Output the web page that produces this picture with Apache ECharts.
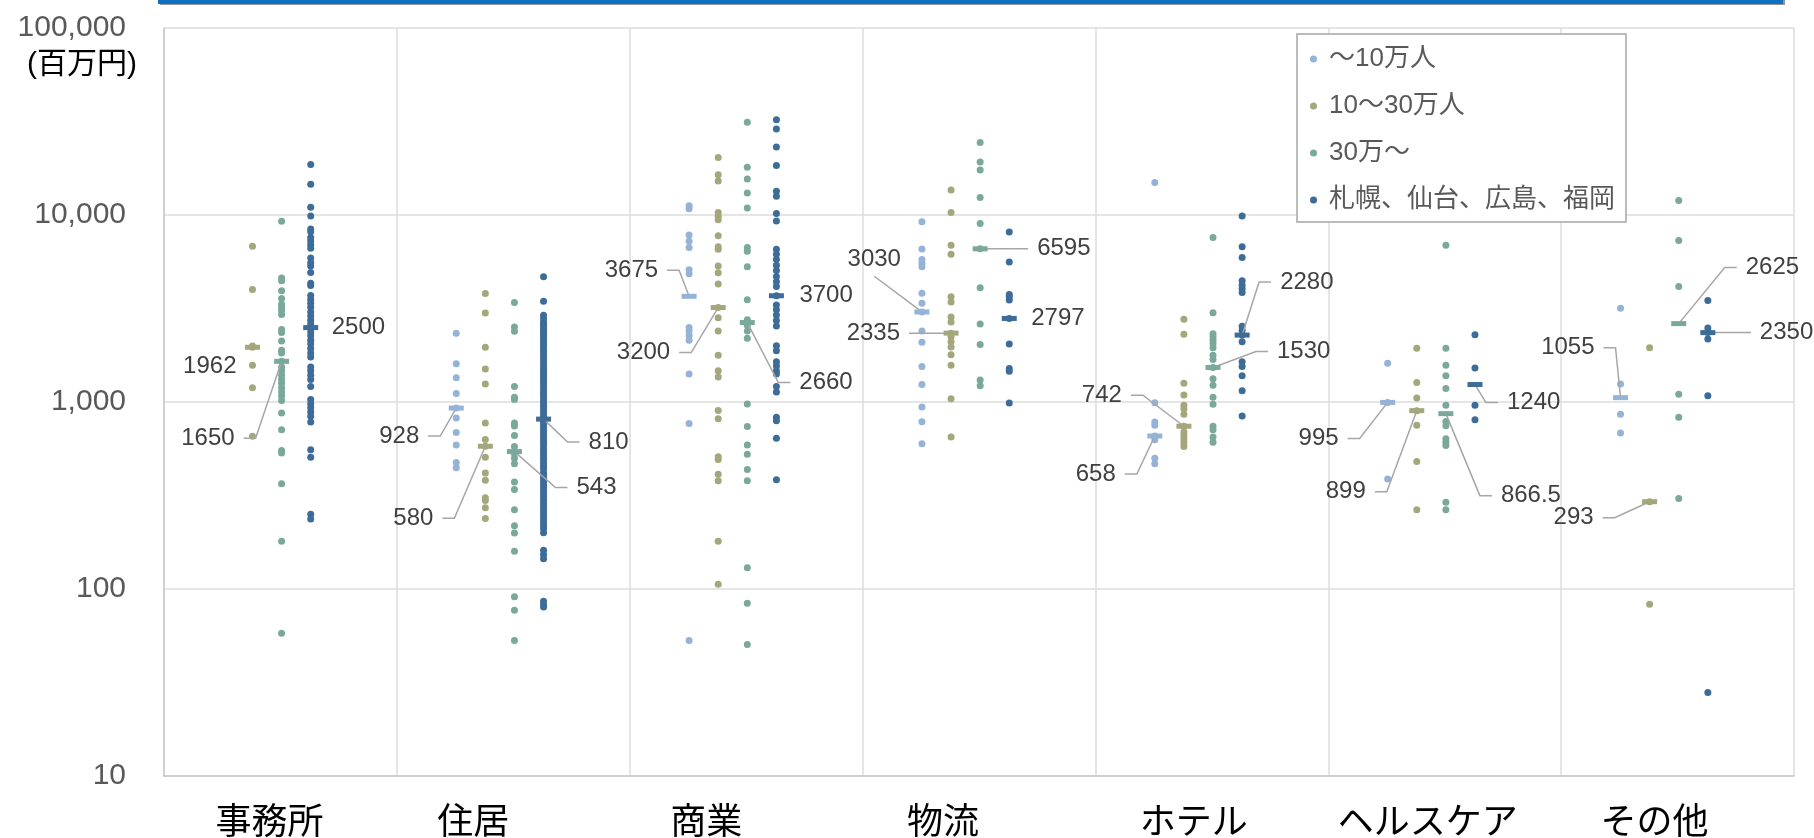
<!DOCTYPE html>
<html>
<head>
<meta charset="utf-8">
<script src="https://cdn.jsdelivr.net/npm/echarts@6/dist/echarts.min.js"></script>
<style>
  html, body { margin: 0; padding: 0; background: #ffffff; }
  #chart { width: 1814px; height: 838px; }
</style>
</head>
<body>
<div id="chart"></div>
<script>
// Building use categories (x axis)
const categories = ['事務所', '住居', '商業', '物流', 'ホテル', 'ヘルスケア', 'その他'];

// City-size groups (legend)
const groupNames = ['〜10万人', '10〜30万人', '30万〜', '札幌、仙台、広島、福岡'];

// Y axis range (百万円, log scale)
const yMin = 10;
const yMax = 100000;

// Individual project amounts per category, one array per group
const smallCityValues = [
  [],
  [2330, 1600, 1350, 1110, 928, 821, 686, 589, 475, 445],
  [11200, 10800, 7820, 7230, 6700, 5100, 4850, 2500, 2400, 2270, 2140, 1410, 768, 53],
  [9210, 6580, 5790, 5510, 5290, 3810, 3370, 3030, 2400, 2090, 1550, 1240, 940, 785, 598],
  [14900, 992, 781, 750, 658, 628, 501, 468],
  [1610, 995, 388],
  [3170, 1250, 860, 683]
];
const midCityValues = [
  [6800, 4000, 1990, 1962, 1570, 1190, 655],
  [3800, 2990, 1960, 1500, 1250, 772, 631, 580, 506, 417, 381, 308, 297, 272, 238],
  [20300, 16400, 15200, 10300, 9860, 9430, 7750, 6760, 6550, 5330, 4910, 4280, 3200, 2820, 2400, 1780, 1470, 1360, 900, 814, 509, 493, 411, 379, 180, 106],
  [13600, 10300, 6900, 6160, 3650, 3430, 2850, 2680, 2335, 2230, 2100, 1970, 1790, 1570, 1040, 649],
  [2770, 2300, 1260, 1090, 960, 921, 859, 742, 691, 663, 636, 610, 579],
  [1940, 1270, 1050, 899, 750, 481, 265],
  [1950, 293, 83]
];
const largeCityValues = [
  [9250, 4600, 4450, 3930, 3580, 3330, 3200, 3090, 2940, 2440, 2350, 2120, 1890, 1830, 1650, 1540, 1470, 1390, 1320, 1260, 1190, 1130, 1080, 1020, 873, 711, 551, 533, 366, 180, 58],
  [3400, 2520, 2390, 1210, 1060, 1030, 772, 744, 661, 579, 543, 529, 501, 468, 373, 340, 265, 218, 199, 159, 91, 77, 53],
  [31300, 18000, 15600, 13100, 10900, 6700, 6400, 5280, 3520, 2750, 2570, 2400, 2190, 977, 740, 589, 526, 435, 379, 130, 84, 50.5],
  [24400, 19200, 17400, 12400, 9020, 6595, 4080, 2610, 2030, 1310, 1220],
  [7590, 3000, 2320, 2230, 2140, 2050, 1950, 1780, 1690, 1530, 1330, 1230, 1060, 972, 743, 711, 649, 610],
  [6900, 1940, 1570, 1380, 1180, 960, 787, 747, 637, 611, 586, 291, 265],
  [11950, 7310, 4140, 1100, 830, 305]
];
const majorCityValues = [
  [18600, 14600, 11000, 9880, 8410, 8140, 7590, 7260, 6940, 6640, 5890, 5560, 5340, 4930, 4310, 4200, 3710, 3530, 3370, 3210, 3030, 2880, 2740, 2610, 2500, 2370, 2260, 2140, 2040, 1930, 1830, 1740, 1540, 1470, 1390, 1320, 1210, 1030, 979, 933, 884, 838, 781, 556, 507, 251, 237],
  [4670, 3460, 2910, 2800, 2680, 2600, 2540, 2450, 2380, 2300, 2240, 2170, 2100, 2030, 1980, 1900, 1850, 1790, 1720, 1680, 1620, 1560, 1510, 1460, 1420, 1370, 1320, 1280, 1240, 1190, 1150, 1110, 1080, 1040, 1000, 970, 940, 905, 870, 840, 815, 785, 760, 730, 705, 680, 655, 630, 610, 590, 565, 545, 525, 505, 490, 470, 455, 440, 420, 405, 390, 375, 360, 348, 335, 322, 310, 298, 287, 276, 265, 255, 245, 236, 226, 218, 210, 200, 161, 153, 145, 86, 82, 80],
  [32300, 28800, 23100, 18400, 13400, 12600, 10200, 9290, 6550, 6170, 5780, 5380, 5050, 4690, 4400, 4150, 3700, 3300, 3110, 2920, 2730, 2550, 2000, 1880, 1640, 1560, 1470, 1410, 1210, 1130, 830, 793, 640, 384],
  [8110, 5600, 3760, 3650, 3510, 2797, 2040, 1510, 1460, 988],
  [9880, 6760, 5930, 4450, 4220, 4050, 3850, 2540, 2420, 2280, 2100, 1640, 1550, 1380, 1150, 841],
  [2290, 1520, 960, 804],
  [3490, 2490, 2350, 2170, 1080, 28]
];

// Median per category, one array per group (null = no data)
const smallCityMedians = [null, 928, 3675, 3030, 658, 995, 1055];
const midCityMedians   = [1962, 580, 3200, 2335, 742, 899, 293];
const largeCityMedians = [1650, 543, 2660, 6595, 1530, 866.5, 2625];
const majorCityMedians = [2500, 810, 3700, 2797, 2280, 1240, 2350];

// ---- styling / layout ----
const colors = ['#95B3D7', '#A4A77C', '#7AA99B', '#3D6C99'];
// horizontal slot of each group inside a category band (band = 1 unit)
const slotOffsets = [0.255, 0.38, 0.505, 0.63];
// median label placement relative to its marker:
// [side, offset of the text's near edge, vertical offset, leader line: false | 'side' | 'below']
const medianLabelLayout = [
  [null, ['left', -37, 28, 'side'], ['left', -31, -26, 'side'], ['left', -21, -53, 'below'], ['left', -39, 38, 'side'], ['left', -49, 36, 'side'], ['left', -26, -50, 'side']],
  [['left', -16, 19, false], ['left', -52, 72, 'side'], ['left', -48, 45, 'side'], ['left', -51, 0, 'side'], ['left', -62, -31, 'side'], ['left', -51, 81, 'side'], ['left', -56, 16, 'side']],
  [['left', -47, 77, 'side'], ['right', 62, 36, 'side'], ['right', 52, 60, 'side'], ['right', 57, 0, 'side'], ['right', 64, -16, 'side'], ['right', 55, 82, 'side'], ['right', 67, -56, 'side']],
  [['right', 21, 0, false], ['right', 45, 23, 'side'], ['right', 23, 0, false], ['right', 22, 0, false], ['right', 38, -53, 'side'], ['right', 32, 18, 'side'], ['right', 52, 0, 'side']]
];
// horizontal shift of each category caption (px, negative = left)
const categoryLabelShift = [-11, -40, -40, -36, -18, -17, -23];

const numFont = "'Liberation Sans', Arial, 'Noto Sans CJK JP', sans-serif";
const jpFont = "'Noto Sans CJK JP', 'Liberation Sans', sans-serif";
const labelFontSize = 24;
const leaderGap = 9;     // space between label text and leader line
const leaderStub = 12;   // horizontal part of the leader line
const markerW = 15;
const markerH = 5;

// text width helper for leader lines that start under a label
const measureCtx = document.createElement('canvas').getContext('2d');
measureCtx.font = labelFontSize + 'px ' + numFont;
const textWidth = s => measureCtx.measureText(s).width;

const valueSets = [smallCityValues, midCityValues, largeCityValues, majorCityValues];
const medianSets = [smallCityMedians, midCityMedians, largeCityMedians, majorCityMedians];

const pointSeries = valueSets.map((sets, k) => ({
  type: 'scatter',
  name: groupNames[k],
  xAxisIndex: 0,
  yAxisIndex: 0,
  symbol: 'circle',
  symbolSize: 7,
  itemStyle: { color: colors[k], opacity: 1 },
  emphasis: { disabled: true },
  silent: true,
  z: 3,
  data: sets.flatMap((vals, i) => vals.map(v => [i + slotOffsets[k], v]))
}));

// median markers with their value labels and leader lines
const medianSeries = medianSets.map((meds, k) => {
  const items = [];
  const layouts = [];
  meds.forEach((m, i) => {
    if (m == null) return;
    layouts.push(medianLabelLayout[k][i]);
    items.push([i + slotOffsets[k], m]);
  });
  return {
    type: 'custom',
    name: groupNames[k] + '（中央値）',
    xAxisIndex: 0,
    yAxisIndex: 0,
    coordinateSystem: 'cartesian2d',
    encode: { x: 0, y: 1 },
    silent: true,
    z: 6,
    clip: false,
    data: items,
    renderItem: (params, api) => {
      const [side, edge, dy, line] = layouts[params.dataIndex];
      const value = api.value(1);
      const text = String(value);
      const p = api.coord([api.value(0), value]);
      const cx = p[0];
      const cy = p[1];
      const tx = cx + edge;
      const ty = cy + dy;
      const dir = side === 'left' ? 1 : -1;
      const children = [];
      let points = null;
      if (line === 'side') {
        points = [[tx + dir * leaderGap, ty], [tx + dir * (leaderGap + leaderStub), ty], [cx, cy]];
      } else if (line === 'below') {
        const w = textWidth(text);
        const midX = side === 'left' ? tx - w / 2 : tx + w / 2;
        points = [[midX, ty + labelFontSize * 0.72], [cx, cy]];
      }
      if (points) {
        children.push({
          type: 'polyline',
          shape: { points },
          style: { stroke: '#a6a6a6', lineWidth: 1.5, fill: null }
        });
      }
      children.push({
        type: 'rect',
        shape: { x: cx - markerW / 2, y: cy - markerH / 2, width: markerW, height: markerH },
        style: { fill: colors[k] }
      });
      children.push({
        type: 'text',
        style: {
          text,
          x: tx,
          y: ty,
          align: side === 'left' ? 'right' : 'left',
          verticalAlign: 'middle',
          fontFamily: numFont,
          fontSize: labelFontSize,
          fill: '#404040'
        }
      });
      return { type: 'group', children };
    }
  };
});

// per-category caption styles (shifted with asymmetric padding)
const categoryRich = {};
categoryLabelShift.forEach((s, i) => {
  categoryRich['c' + i] = {
    fontFamily: jpFont,
    fontSize: 36,
    lineHeight: 36,
    color: '#000000',
    padding: s < 0 ? [0, -2 * s, 0, 0] : [0, 0, 0, 2 * s]
  };
});

const chart = echarts.init(document.getElementById('chart'), null, { renderer: 'canvas' });

chart.setOption({
  animation: false,
  backgroundColor: '#ffffff',
  grid: { left: 164, right: 20, top: 28, bottom: 62, containLabel: false },
  graphic: [
    { type: 'rect', silent: true, shape: { x: 160, y: 0, width: 1625, height: 5 }, style: { fill: '#9c9090' } },
    { type: 'rect', silent: true, shape: { x: 158, y: 0, width: 1625, height: 4 }, style: { fill: '#0E70C0' } }
  ],
  legend: {
    data: groupNames,
    orient: 'vertical',
    left: 1297,
    top: 34,
    icon: 'circle',
    itemWidth: 7,
    itemHeight: 7,
    itemGap: 17,
    padding: [10, 11, 7, 13],
    backgroundColor: '#ffffff',
    borderColor: '#a6a6a6',
    borderWidth: 1.5,
    selectedMode: false,
    textStyle: {
      fontFamily: numFont,
      fontSize: 26,
      lineHeight: 30,
      color: '#595959',
      padding: [0, 0, 0, 7]
    },
    z: 10
  },
  xAxis: [
    {
      type: 'value',
      min: 0,
      max: categories.length,
      interval: 1,
      position: 'bottom',
      axisLine: { show: true, lineStyle: { color: '#c8c8c8', width: 1.5 } },
      axisTick: { show: false },
      axisLabel: { show: false },
      splitLine: { show: true, lineStyle: { color: '#dcdcdc', width: 1.5 } }
    },
    {
      type: 'category',
      data: categories,
      position: 'bottom',
      boundaryGap: true,
      axisLine: { show: false },
      axisTick: { show: false },
      splitLine: { show: false },
      axisLabel: {
        fontFamily: jpFont,
        fontSize: 36,
        lineHeight: 36,
        color: '#000000',
        margin: 26,
        interval: 0,
        formatter: (v, i) => '{c' + i + '|' + v + '}',
        rich: categoryRich
      }
    }
  ],
  yAxis: {
    type: 'log',
    logBase: 10,
    min: yMin,
    max: yMax,
    name: '(百万円)',
    nameLocation: 'end',
    nameGap: -37,
    nameTextStyle: {
      fontFamily: numFont,
      fontSize: 30,
      color: '#000000',
      align: 'right',
      verticalAlign: 'middle',
      padding: [0, 27, 0, 0]
    },
    axisLine: { show: true, lineStyle: { color: '#c8c8c8', width: 1.5 } },
    axisTick: { show: false },
    splitLine: { show: true, lineStyle: { color: '#dcdcdc', width: 1.5 } },
    axisLabel: {
      fontFamily: numFont,
      fontSize: 30,
      color: '#595959',
      margin: 38,
      formatter: v => Math.round(v).toLocaleString('en-US')
    }
  },
  series: pointSeries.concat(medianSeries)
});
</script>
</body>
</html>
